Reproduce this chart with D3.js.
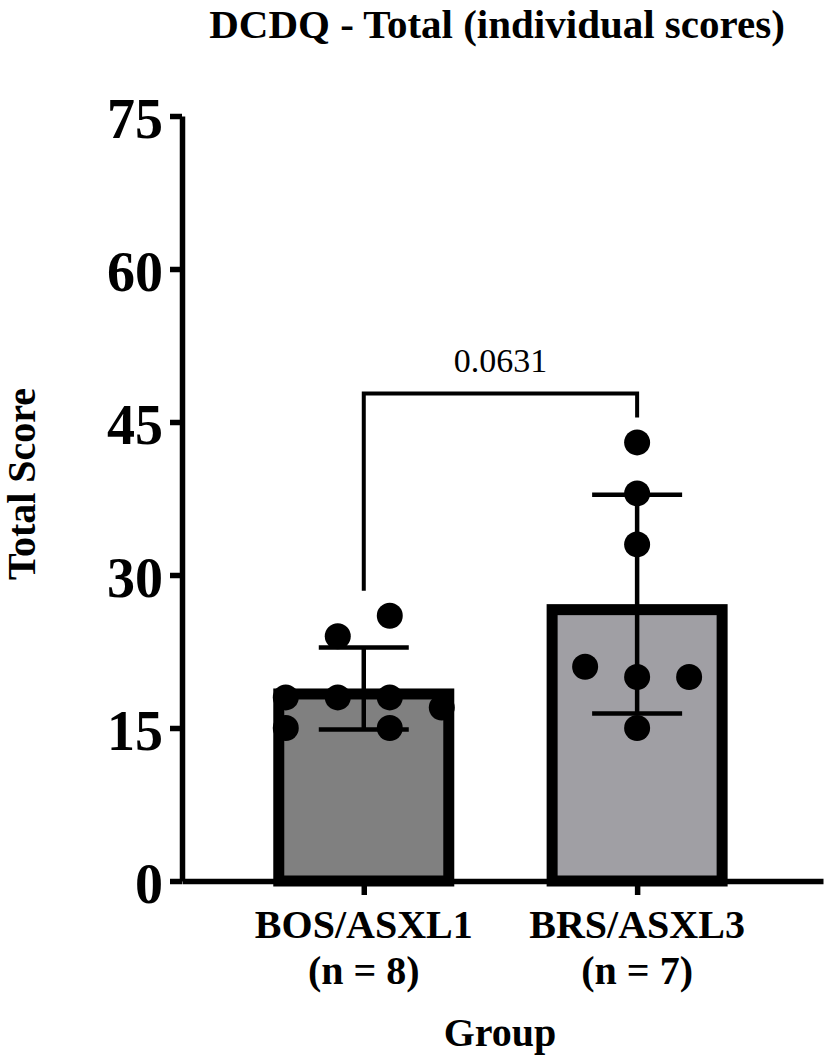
<!DOCTYPE html>
<html>
<head>
<meta charset="utf-8">
<script src="https://cdn.jsdelivr.net/npm/d3@7"></script>
<style>
  body { margin: 0; background: #fff; }
  svg text { font-family: "Liberation Serif", "Times New Roman", serif; fill: #000; }
</style>
</head>
<body>
<svg id="chart" width="827" height="1062"></svg>
<script>
// data
const groups = ["BOS/ASXL1", "BRS/ASXL3"];
const nLabels = ["(n = 8)", "(n = 7)"];
const bosScores = [15, 18, 24, 18, 26, 18, 15, 17];
const brsScores = [43, 38, 33, 21, 20, 20, 15];
const yTicks = [0, 15, 30, 45, 60, 75];
const pValue = "0.0631";
const barColors = ["#808080", "#a09fa4"];

// horizontal slot of each dot (scatter layout, not data)
const bosSlots = [-1.5, -1.5, -0.5, -0.5, 0.5, 0.5, 0.5, 1.5];
const brsSlots = [0, 0, 0, -1, 0, 1, 0];

const svg = d3.select("#chart");

const y = d3.scaleLinear().domain([0, 75]).range([881, 116]);
const x = d3.scaleLinear().domain([-0.665, 1.68]).range([182, 823]);

const barW = 181, stroke = 11, dotR = 13, slotGap = 52, capW = 90;

var series = [
   { name: groups[0], n: nLabels[0], scores: bosScores, slots: bosSlots, color: barColors[0] },
   { name: groups[1], n: nLabels[1], scores: brsScores, slots: brsSlots, color: barColors[1] }
];
series.forEach((s, i) => {
   s.i = i;
   s.mean = d3.mean(s.scores);
   s.sd = d3.deviation(s.scores);
});

// bars (border drawn inside the bar edge)
svg.selectAll(".bar")
   .data(series)
   .join("rect")
   .attr("class", "bar")
   .attr("x", d => x(d.i) - barW / 2 + stroke / 2)
   .attr("y", d => y(d.mean) + stroke / 2)
   .attr("width", barW - stroke)
   .attr("height", d => y(0) - y(d.mean) - stroke / 2)
   .attr("fill", d => d.color)
   .attr("stroke", "#000")
   .attr("stroke-width", stroke);

// individual scores
series.forEach(s => {
   svg.selectAll(".dot" + s.i)
      .data(s.scores)
      .join("circle")
      .attr("cx", (v, j) => x(s.i) + s.slots[j] * slotGap)
      .attr("cy", v => y(v))
      .attr("r", dotR)
      .attr("fill", "#000");
});

// mean +/- SD
var err = svg.selectAll(".err").data(series).join("g").attr("class", "err")
   .attr("stroke", "#000").attr("stroke-width", 4.5);
err.append("line")
   .attr("x1", d => x(d.i)).attr("x2", d => x(d.i))
   .attr("y1", d => y(d.mean - d.sd)).attr("y2", d => y(d.mean + d.sd));
err.append("line")
   .attr("x1", d => x(d.i) - capW / 2).attr("x2", d => x(d.i) + capW / 2)
   .attr("y1", d => y(d.mean + d.sd)).attr("y2", d => y(d.mean + d.sd));
err.append("line")
   .attr("x1", d => x(d.i) - capW / 2).attr("x2", d => x(d.i) + capW / 2)
   .attr("y1", d => y(d.mean - d.sd)).attr("y2", d => y(d.mean - d.sd));

// axes
var yAxis = svg.append("g")
   .attr("transform", "translate(182,0)")
   .call(d3.axisLeft(y).tickValues(yTicks).tickSize(12).tickSizeOuter(0).tickPadding(7));
yAxis.selectAll("text")
   .attr("font-size", 56).attr("font-weight", "bold").attr("dy", "0.38em");

var xAxis = svg.append("g")
   .attr("transform", "translate(0,881)")
   .call(d3.axisBottom(x).tickValues([0, 1]).tickFormat("").tickSize(14).tickSizeOuter(0));

svg.selectAll(".domain, .tick line")
   .attr("stroke", "#000").attr("stroke-width", 5.5);
svg.selectAll(".tick text").attr("fill", "#000");

// category labels
var cat = svg.selectAll(".cat").data(series).join("text").attr("class", "cat")
   .attr("text-anchor", "middle").attr("font-size", 40).attr("font-weight", "bold");
cat.append("tspan").attr("x", d => x(d.i)).attr("y", 938).text(d => d.name);
cat.append("tspan").attr("x", d => x(d.i)).attr("y", 984).text(d => d.n);

// significance bracket
var leftEnd = y(d3.max(bosScores)) - dotR - 12;
var rightEnd = y(d3.max(brsScores)) - dotR - 12;
var bracketTop = Math.min(leftEnd, rightEnd) - 24;
svg.append("path")
   .attr("d", d3.line()([[x(0), leftEnd], [x(0), bracketTop], [x(1), bracketTop], [x(1), rightEnd]]))
   .attr("fill", "none").attr("stroke", "#000").attr("stroke-width", 4);
svg.append("text")
   .attr("x", (x(0) + x(1)) / 2).attr("y", bracketTop - 21)
   .attr("text-anchor", "middle").attr("font-size", 34)
   .text(pValue);

// titles
svg.append("text")
   .attr("x", 497).attr("y", 38)
   .attr("text-anchor", "middle").attr("font-size", 41).attr("font-weight", "bold")
   .text("DCDQ - Total (individual scores)");

svg.append("text")
   .attr("x", 500).attr("y", 1046)
   .attr("text-anchor", "middle").attr("font-size", 40).attr("font-weight", "bold")
   .text("Group");

svg.append("text")
   .attr("transform", "translate(35,484) rotate(-90)")
   .attr("text-anchor", "middle").attr("font-size", 40).attr("font-weight", "bold")
   .text("Total Score");
</script>
</body>
</html>
